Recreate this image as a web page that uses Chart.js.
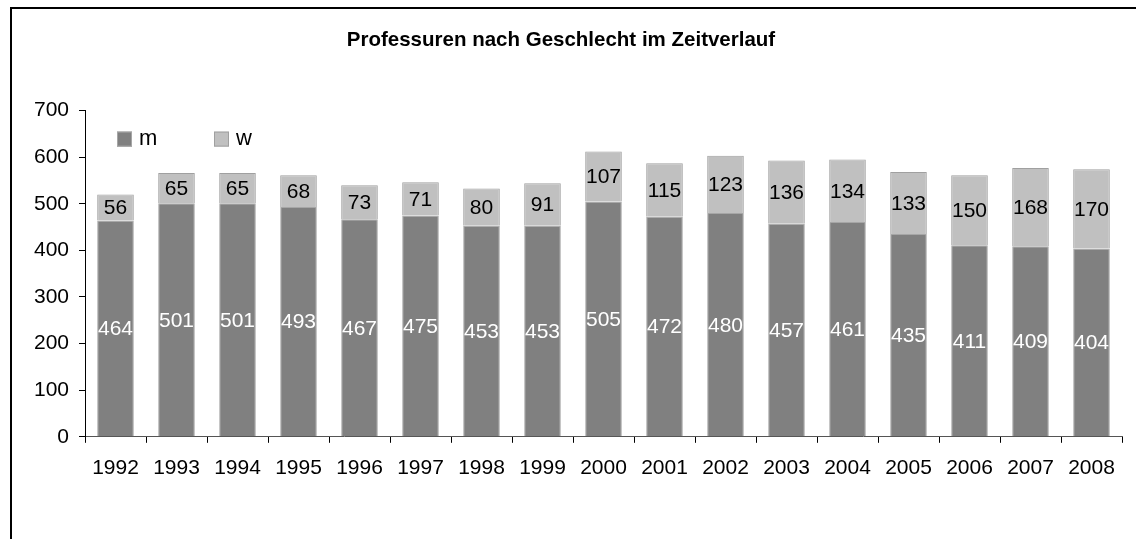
<!DOCTYPE html>
<html>
<head>
<meta charset="utf-8">
<script src="https://cdn.jsdelivr.net/npm/chart.js@4.4.0/dist/chart.umd.min.js"></script>
<style>
  html, body { margin: 0; padding: 0; background: #fff; }
  #wrap { width: 1136px; height: 539px; position: relative; }
</style>
</head>
<body>
<div id="wrap"><canvas id="chart" width="1136" height="539"></canvas></div>
<script>
// Data
const years = ['1992', '1993', '1994', '1995', '1996', '1997', '1998', '1999', '2000',
               '2001', '2002', '2003', '2004', '2005', '2006', '2007', '2008'];
const maenner = [464, 501, 501, 493, 467, 475, 453, 453, 505, 472, 480, 457, 461, 435, 411, 409, 404];
const frauen = [56, 65, 65, 68, 73, 71, 80, 91, 107, 115, 123, 136, 134, 133, 150, 168, 170];

const FONT = "Arial, 'Liberation Sans', sans-serif";

// frame lines (top + left) of the original chart box
const framePlugin = {
    id: 'frame',
    beforeDraw(chart) {
        let ctx = chart.ctx;
        ctx.save();
        ctx.strokeStyle = '#000';
        ctx.lineWidth = 2;
        ctx.beginPath();
        ctx.moveTo(11, chart.height);
        ctx.lineTo(11, 8);
        ctx.lineTo(chart.width, 8);
        ctx.stroke();
        ctx.restore();
    }
};

// values written in the middle of each segment
const valueLabels = {
    id: 'valueLabels',
    afterDatasetsDraw(chart) {
        let ctx = chart.ctx;
        ctx.save();
        ctx.font = '21px ' + FONT;
        ctx.textAlign = 'center';
        ctx.textBaseline = 'middle';
        chart.data.datasets.forEach(function(ds, i) {
            let meta = chart.getDatasetMeta(i);
            ctx.fillStyle = ds.labelColor;
            meta.data.forEach(function(bar, j) {
                let y = (bar.y + bar.base) / 2;
                ctx.fillText(String(ds.data[j]), bar.x, y + 1);
            });
        });
        ctx.restore();
    }
};

// legend drawn inside the plot, top left
const innerLegend = {
    id: 'innerLegend',
    afterDraw(chart) {
        let ctx = chart.ctx;
        let area = chart.chartArea;
        let x = area.left + 32;
        let y = area.top + 21;
        ctx.save();
        ctx.font = '22px ' + FONT;
        ctx.textBaseline = 'middle';
        chart.data.datasets.forEach(function(ds) {
            ctx.fillStyle = ds.backgroundColor;
            ctx.fillRect(x, y, 15, 15);
            ctx.strokeStyle = ds.borderColor;
            ctx.lineWidth = 1;
            ctx.strokeRect(x + 0.5, y + 0.5, 14, 14);
            ctx.fillStyle = '#000';
            ctx.fillText(ds.label, x + 22, y + 7);
            x += 97;
        });
        ctx.restore();
    }
};

let chart = new Chart(document.getElementById('chart').getContext('2d'), {
    type: 'bar',
    data: {
        labels: years,
        datasets: [
            {
                label: 'm',
                data: maenner,
                backgroundColor: '#808080',
                borderColor: '#a6a6a6',
                borderWidth: 1,
                labelColor: '#fff',
                barPercentage: 0.6,
                categoryPercentage: 1
            },
            {
                label: 'w',
                data: frauen,
                backgroundColor: '#c0c0c0',
                borderColor: '#a0a0a0',
                borderWidth: 1,
                labelColor: '#000',
                barPercentage: 0.6,
                categoryPercentage: 1
            }
        ]
    },
    options: {
        responsive: false,
        animation: false,
        layout: {
            padding: { left: 0, right: 14, top: 0, bottom: 45 }
        },
        plugins: {
            legend: { display: false },
            tooltip: { enabled: false },
            title: {
                display: true,
                text: 'Professuren nach Geschlecht im Zeitverlauf',
                color: '#000',
                font: { family: FONT, size: 20.5, weight: 'bold', lineHeight: 1.2 },
                padding: { top: 28, bottom: 58 }
            }
        },
        scales: {
            x: {
                stacked: true,
                grid: {
                    offset: true,
                    drawOnChartArea: false,
                    drawTicks: true,
                    tickLength: 6,
                    color: '#000'
                },
                border: { display: true, color: '#555', width: 1 },
                ticks: {
                    color: '#000',
                    padding: 13,
                    maxRotation: 0,
                    font: { family: FONT, size: 21 }
                }
            },
            y: {
                stacked: true,
                min: 0,
                max: 700,
                afterFit: function(scale) { scale.width = 85; },
                grid: {
                    drawOnChartArea: false,
                    drawTicks: true,
                    tickLength: 6,
                    color: '#000'
                },
                border: { display: true, color: '#000', width: 1 },
                ticks: {
                    stepSize: 100,
                    color: '#000',
                    padding: 10,
                    font: { family: FONT, size: 21 }
                }
            }
        }
    },
    plugins: [framePlugin, valueLabels, innerLegend]
});
</script>
</body>
</html>
